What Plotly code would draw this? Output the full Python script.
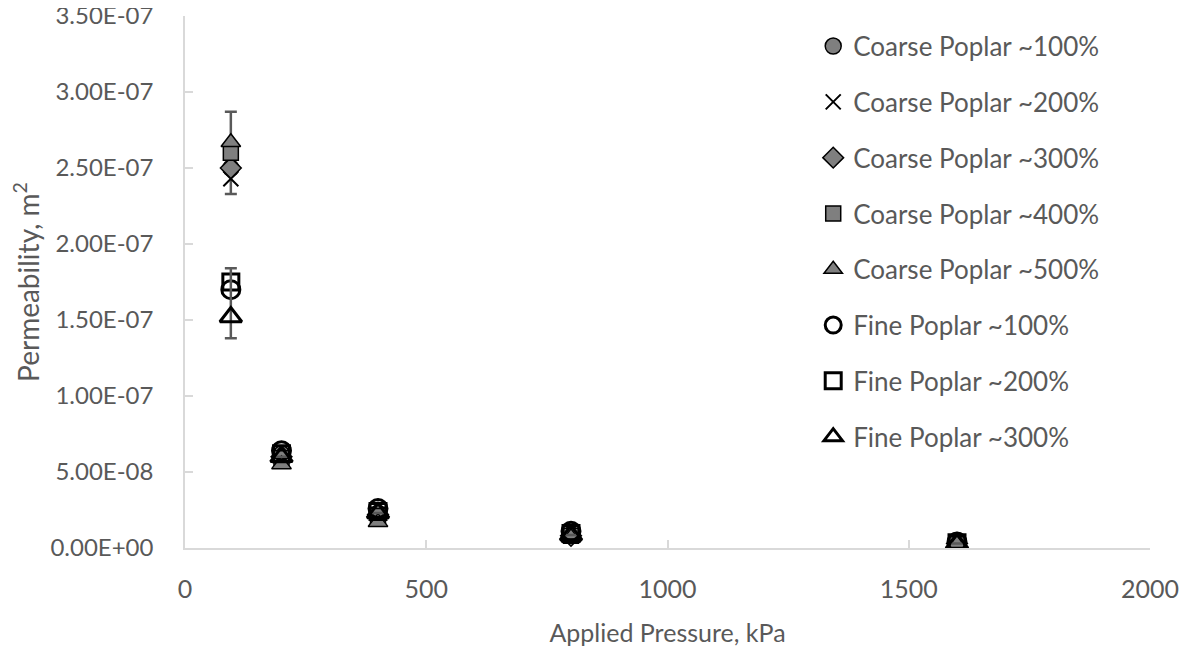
import plotly.graph_objects as go

pressure = [95, 200, 400, 800, 1600]

series_names = [
    "Coarse Poplar ~100%", "Coarse Poplar ~200%", "Coarse Poplar ~300%",
    "Coarse Poplar ~400%", "Coarse Poplar ~500%",
    "Fine Poplar ~100%", "Fine Poplar ~200%", "Fine Poplar ~300%",
]

coarse_100 = [2.50e-7, 6.2e-8, 2.3e-8, 9.0e-9, 3.0e-9]
coarse_200 = [2.43e-7, 6.0e-8, 2.2e-8, 8.0e-9, 3.0e-9]
coarse_300 = [2.50e-7, 6.0e-8, 2.2e-8, 8.0e-9, 3.0e-9]
coarse_400 = [2.60e-7, 5.9e-8, 2.1e-8, 8.0e-9, 2.5e-9]
coarse_500 = [2.67e-7, 5.5e-8, 1.7e-8, 7.0e-9, 2.5e-9]
fine_100 = [1.70e-7, 6.4e-8, 2.6e-8, 1.1e-8, 4.0e-9]
fine_200 = [1.75e-7, 6.2e-8, 2.4e-8, 9.5e-9, 3.5e-9]
fine_300 = [1.52e-7, 6.0e-8, 2.3e-8, 8.5e-9, 3.0e-9]

# error bars (only on first pressure point)
coarse_err_plus = [0.37e-7, 0, 0, 0, 0]
coarse_err_minus = [0.17e-7, 0, 0, 0, 0]
fine_err_plus = [0.32e-7, 0, 0, 0, 0]
fine_err_minus = [0.14e-7, 0, 0, 0, 0]

x_tickvals = [0, 500, 1000, 1500, 2000]
y_tickvals = [0, 0.5e-7, 1.0e-7, 1.5e-7, 2.0e-7, 2.5e-7, 3.0e-7, 3.5e-7]
y_ticktext = ["0.00E+00", "5.00E-08", "1.00E-07", "1.50E-07", "2.00E-07",
              "2.50E-07", "3.00E-07", "3.50E-07"]

FONT = "Lato"
TXT = "#595959"
AX = "#d9d9d9"

fig = go.Figure()

coarse_style = [
    ("circle", coarse_100, 16),
    ("x-thin", coarse_200, 15),
    ("diamond", coarse_300, 16),
    ("square", coarse_400, 15),
    ("triangle-up", coarse_500, 17),
]
for i, (sym, vals, sz) in enumerate(coarse_style):
    err = None
    if i == 0:
        err = dict(type="data", symmetric=False, array=coarse_err_plus,
                   arrayminus=coarse_err_minus, color=TXT, thickness=2.5, width=6)
    if sym == "x-thin":
        marker = dict(symbol=sym, size=sz, color="black",
                      line=dict(color="black", width=2))
    else:
        marker = dict(symbol=sym, size=sz, color="#7f7f7f",
                      line=dict(color="black", width=1.5))
    fig.add_trace(go.Scatter(
        x=pressure, y=vals, mode="markers", name=series_names[i],
        marker=marker, error_y=err, legendgroup=series_names[i]))

fine_style = [
    ("circle-open", fine_100, 18),
    ("square-open", fine_200, 16),
    ("triangle-up-open", fine_300, 19),
]
for j, (sym, vals, sz) in enumerate(fine_style):
    err = None
    if j == 2:
        err = dict(type="data", symmetric=False, array=fine_err_plus,
                   arrayminus=fine_err_minus, color=TXT, thickness=2.5, width=6)
    fig.add_trace(go.Scatter(
        x=pressure, y=vals, mode="markers", name=series_names[5 + j],
        marker=dict(symbol=sym, size=sz, color="black",
                    line=dict(color="black", width=3)),
        error_y=err, legendgroup=series_names[5 + j]))

fig.update_layout(
    width=1196, height=647,
    margin=dict(l=177, r=54, t=8, b=107, autoexpand=False),
    paper_bgcolor="white", plot_bgcolor="white",
    font=dict(family=FONT, color=TXT, size=25),
    showlegend=True,
    legend=dict(x=0.651, y=0.9875, xanchor="left", yanchor="top",
                font=dict(family=FONT, size=26, color=TXT),
                traceorder="grouped", tracegroupgap=19,
                bgcolor="rgba(0,0,0,0)", itemsizing="trace"),
    xaxis=dict(range=[0, 2000], tickvals=x_tickvals,
               showgrid=False, zeroline=False, showline=True,
               linecolor=AX, linewidth=1.5, ticks="inside", ticklen=8,
               tickcolor=AX, tickwidth=1.5, automargin=False,
               ticklabelstandoff=18, ticklabeloverflow="allow",
               tickfont=dict(size=25, color=TXT, family=FONT),
               title=dict(text="Applied Pressure, kPa",
                          font=dict(size=25, color=TXT, family=FONT),
                          standoff=23)),
    yaxis=dict(range=[0, 3.5005e-7], tickvals=y_tickvals, ticktext=y_ticktext,
               showgrid=False, zeroline=False, showline=True,
               linecolor=AX, linewidth=1.5, ticks="inside", ticklen=8,
               tickcolor=AX, tickwidth=1.5, automargin=False,
               ticklabelstandoff=25, ticklabeloverflow="allow",
               tickfont=dict(size=24, color=TXT, family=FONT),
               title=dict(text="Permeability, m<sup>2</sup>",
                          font=dict(size=28, color=TXT, family=FONT),
                          standoff=12)),
)

fig.write_html("out.html")
